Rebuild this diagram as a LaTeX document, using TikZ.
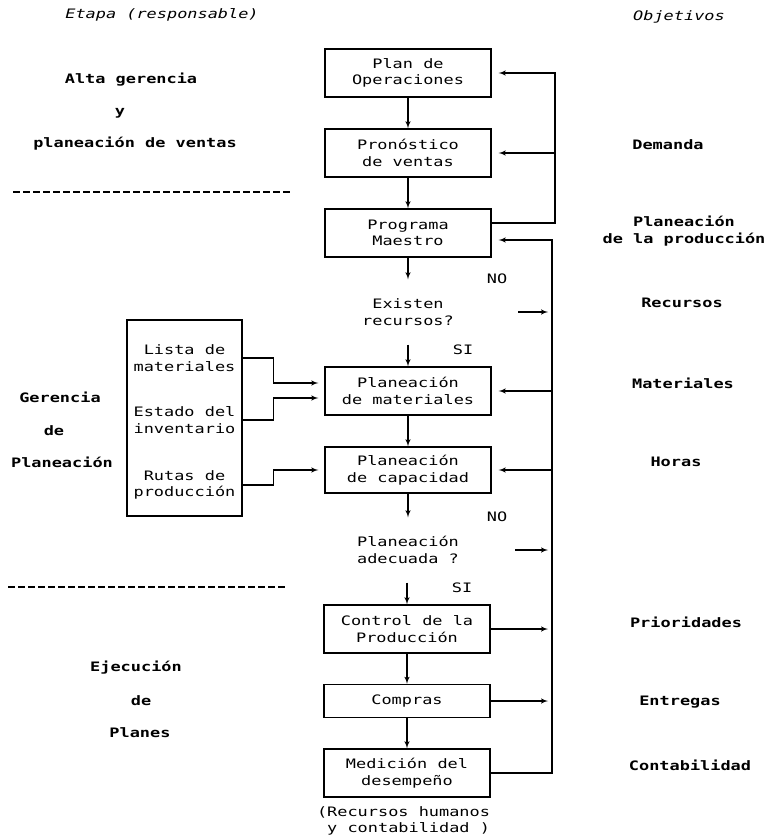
\documentclass[tikz,border=0pt]{standalone}
\usepackage{fontspec}
\setmonofont[FakeStretch=1.3]{DejaVu Sans Mono}
\usepackage{tikz}
\usetikzlibrary{arrows}

\tikzset{
  caja/.style={draw, line width=1.4pt, minimum width=166pt, minimum height=48pt, align=center, inner sep=0pt},
  pregunta/.style={minimum height=64pt, align=center, inner sep=0pt},
  rotulo/.style={font=\ttfamily\bfseries\fontsize{13}{16.5}\selectfont, align=center},
  titulo/.style={font=\ttfamily\itshape\fontsize{13}{16.5}\selectfont},
  divisor/.style={-, line width=2.5pt, dash pattern=on 7pt off 3pt},
}

\begin{document}
\begin{tikzpicture}[x=1pt, y=-1pt, ->, >=latex', line width=1.4pt,
    font=\ttfamily\fontsize{13}{16.5}\selectfont]
    \useasboundingbox (0,0) rectangle (768,838);

    % columna de etapas
    \node[titulo] at (162,15) (etapa) {Etapa (responsable)};
    \node[rotulo] at (131,80) (alta) {Alta gerencia};
    \node[rotulo] at (120,113) (ytxt) {y};
    \node[rotulo] at (135,144) (ventas) {planeación de ventas};
    \draw[divisor] (13,192) -- (290,192);
    \node[rotulo] at (60,397) (gerencia) {Gerencia};
    \node[rotulo] at (54,431) (gerde) {de};
    \node[rotulo] at (62,462) (gerplan) {Planeación};
    \draw[divisor] (8,587) -- (288,587);
    \node[rotulo] at (136,668) (ejec) {Ejecución};
    \node[rotulo] at (141,701) (ejecde) {de};
    \node[rotulo] at (140,733) (planes) {Planes};

    % columna de objetivos
    \node[titulo] at (679,17) (objetivos) {Objetivos};
    \node[rotulo] at (668,145) (demanda) {Demanda};
    \node[rotulo] at (684,231) (objprod) {Planeación\\de la producción};
    \node[rotulo] at (682,303) (recursos) {Recursos};
    \node[rotulo] at (683,383) (materiales) {Materiales};
    \node[rotulo] at (676,462) (horas) {Horas};
    \node[rotulo] at (686,622) (prioridades) {Prioridades};
    \node[rotulo] at (680,702) (entregas) {Entregas};
    \node[rotulo] at (690,765) (contab) {Contabilidad};

    % flujo principal
    \node[caja] at (408,73) (plan) {Plan de\\Operaciones};
    \node[caja] at (408,153) (pron) {Pronóstico\\de ventas};
    \node[caja] at (408,233) (prog) {Programa\\Maestro};
    \node[pregunta] at (408,312) (recur) {Existen\\recursos?};
    \node[caja] at (408,391) (mat) {Planeación\\de materiales};
    \node[caja, minimum height=46pt] at (408,470) (cap) {Planeación\\de capacidad};
    \node[pregunta] at (408,550) (adec) {Planeación\\adecuada ?};
    \node[caja] at (407,629) (ctrl) {Control de la\\Producción};
    \node[caja, minimum height=33pt] at (407,701) (comp) {Compras};
    \node[caja] at (407,773) (medi) {Medición del\\desempeño};
    \node[anchor=west, align=left] at (313,821) (nota) {(Recursos humanos\\~y contabilidad )};

    \node at (497,279) (noA) {NO};
    \node at (463,350) (siA) {SI};
    \node at (497,517) (noB) {NO};
    \node at (462,588) (siB) {SI};

    \draw (plan) -- (pron);
    \draw (pron) -- (prog);
    \draw (prog.south) -- (recur.north -| prog.south);
    \draw (recur.south -| mat.north) -- (mat.north);
    \draw (mat) -- (cap);
    \draw (cap.south) -- (adec.north -| cap.south);
    \draw (adec.south -| ctrl.north) -- (ctrl.north);
    \draw (ctrl) -- (comp);
    \draw (comp) -- (medi);

    % datos de entrada
    \node[draw, minimum width=115pt, minimum height=196pt] at (184.5,418) (datos) {};
    \node[align=center] at (184.5,358) (lista) {Lista de\\materiales};
    \node[align=center] at (184.5,420) (estado) {Estado del\\inventario};
    \node[align=center] at (184.5,485) (rutas) {Rutas de\\producción};

    \draw[shorten >=6pt] (lista -| datos.east) -- ++(31,0) |- ([yshift=8pt]mat.west);
    \draw[shorten >=6pt] (estado -| datos.east) -- ++(31,0) |- ([yshift=-7pt]mat.west);
    \draw[shorten >=6pt] (rutas -| datos.east) -- ++(31,0) |- (cap.west);

    % retroalimentacion
    \coordinate (busA) at (555,73);
    \coordinate (busB) at (552,240);
    \draw[shorten >=7pt] ([yshift=10pt]prog.east) -| (busA) -- (plan.east);
    \draw[shorten >=7pt] (busA |- pron.east) -- (pron.east);
    \draw[shorten >=7pt] (medi.east) -| (busB) -- ([yshift=-7pt]prog.east);
    \draw[shorten >=7pt] (mat.east -| busB) -- (mat.east);
    \draw[shorten >=7pt] (cap.east -| busB) -- (cap.east);

    \coordinate (salA) at (518,312);
    \coordinate (salB) at (515,550);
    \draw[shorten >=4pt] (salA) -- (salA -| busB);
    \draw[shorten >=4pt] (salB) -- (salB -| busB);
    \draw[shorten >=4pt] (ctrl.east) -- (ctrl.east -| busB);
    \draw[shorten >=4pt] (comp.east) -- (comp.east -| busB);
\end{tikzpicture}
\end{document}
